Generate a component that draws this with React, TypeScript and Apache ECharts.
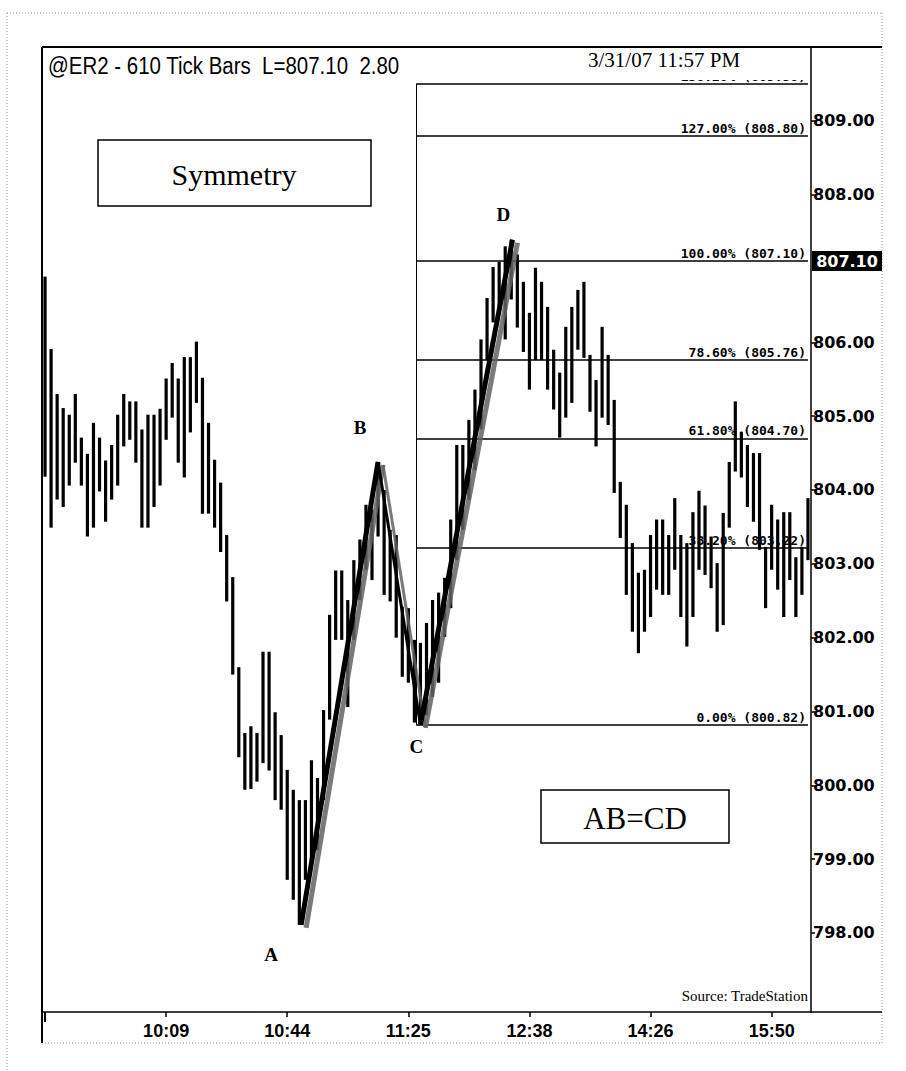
import React, { useEffect, useRef } from "react";
import * as echarts from "echarts";

// ---- data ----
const barHigh = [
  806.89, 805.91, 805.30, 805.11, 805.02, 805.30, 804.71, 804.49, 804.91, 804.71,
  804.40, 804.61, 805.02, 805.30, 805.20, 805.20, 804.82, 805.02, 805.02, 805.10,
  805.51, 805.72, 805.51, 805.80, 805.80, 806.01, 805.52, 804.91, 804.41, 804.10,
  803.39, 802.82, 801.60, 800.71, 800.80, 800.71, 801.81, 801.81, 800.99, 800.68,
  800.21, 799.94, 799.80, 799.80, 800.34, 800.10, 801.02, 802.31, 802.91, 802.91,
  802.51, 803.05, 803.33, 803.80, 803.73, 804.38, 804.00, 803.46, 803.39, 802.42,
  802.40, 801.97, 801.93, 802.20, 802.51, 802.61, 802.81, 803.60, 804.61, 804.61,
  804.95, 805.36, 806.04, 806.60, 807.02, 807.09, 807.30, 807.39, 807.19, 806.82,
  806.40, 807.01, 806.82, 806.48, 805.90, 805.59, 806.21, 806.48, 806.71, 806.82,
  805.83, 805.49, 806.21, 805.83, 805.22, 804.11, 803.80, 803.28, 802.88, 802.92,
  803.39, 803.60, 803.60, 803.39, 803.89, 803.39, 803.28, 803.70, 803.99, 803.79,
  803.37, 803.01, 803.69, 804.38, 805.20, 804.79, 804.61, 804.50, 804.50, 803.23,
  803.80, 803.60, 803.70, 803.70, 803.09, 803.23, 803.89,
];
const barLow = [
  804.18, 803.49, 803.87, 803.77, 804.06, 804.37, 804.06, 803.37, 803.49, 803.98,
  803.57, 803.87, 804.06, 804.59, 804.68, 804.37, 803.49, 803.49, 803.77, 804.06,
  804.68, 804.98, 804.37, 804.17, 804.78, 805.18, 803.68, 803.68, 803.49, 803.16,
  802.49, 801.50, 800.38, 799.94, 799.95, 800.05, 800.30, 800.20, 799.80, 799.67,
  798.72, 798.45, 798.11, 798.72, 798.99, 799.12, 799.80, 800.89, 801.97, 801.97,
  801.06, 801.97, 802.51, 802.92, 802.78, 803.37, 802.58, 802.49, 802.00, 801.47,
  801.39, 800.85, 800.82, 800.95, 801.20, 801.39, 802.01, 802.40, 803.05, 803.46,
  803.87, 804.27, 804.82, 805.76, 806.27, 806.44, 806.04, 806.58, 806.20, 805.87,
  805.36, 805.76, 805.76, 805.36, 805.09, 804.71, 804.98, 805.18, 805.90, 805.79,
  805.06, 804.59, 804.98, 804.88, 803.96, 803.35, 802.58, 802.08, 801.79, 802.08,
  802.28, 802.65, 802.58, 802.58, 802.92, 802.28, 801.88, 802.28, 802.92, 802.85,
  802.67, 802.08, 802.17, 803.49, 804.25, 804.17, 803.77, 803.57, 803.19, 802.40,
  802.92, 802.65, 802.28, 802.78, 802.28, 802.58, 803.05,
];
const xTickIdx = [20, 40, 60, 80, 100, 120];
const xTickLabels = ["10:09", "10:44", "11:25", "12:38", "14:26", "15:50"];
const yTicks = [798, 799, 800, 801, 802, 803, 804, 805, 806, 808, 809];
const fibPct = ["0.00%", "38.20%", "61.80%", "78.60%", "100.00%", "127.00%", "138.20%"];
const fibVal = [800.82, 803.22, 804.7, 805.76, 807.1, 808.8, 809.5];
const fibStartIdx = 61.3;
const fibEndIdx = 126;
const pivotNames = ["A", "B", "C", "D"];
const pivotIdx = [42.3, 55, 62, 77.2];
const pivotVal = [798.11, 804.38, 800.82, 807.39];
const lastPrice = 807.1;
const titleText = "@ER2 - 610 Tick Bars  L=807.10  2.80";
const dateText = "3/31/07 11:57 PM";

export default function App() {
  const ref = useRef<HTMLDivElement>(null);
  useEffect(() => {
    if (!ref.current) return;
    const chart = echarts.init(ref.current, undefined, { renderer: "svg" });
    const barData = barHigh.map((h, i) => [i, barLow[i], h]);
    const seg = (a: number, b: number) => [
      [pivotIdx[a], pivotVal[a]],
      [pivotIdx[b], pivotVal[b]],
    ];
    const shadowLine = (w: number) => ({
      color: "#000",
      width: w,
      shadowColor: "rgba(100,100,100,0.85)",
      shadowOffsetX: 5,
      shadowOffsetY: 3,
      shadowBlur: 1,
    });
    const labelOffsets = [[-30, 30], [-18, -34], [-4, 22], [-9, -25]];
    const fibLines: any[] = fibVal.map((v, i) => [
      {
        coord: [fibStartIdx, v],
        label: {
          show: true,
          position: "insideEndTop",
          formatter: `${fibPct[i]} (${v.toFixed(2)})`,
          fontFamily: "DejaVu Sans Mono",
          fontWeight: "bold",
          fontSize: 13,
          color: "#000",
          distance: [2, 1],
        },
      },
      { coord: [fibEndIdx, v] },
    ]);
    fibLines.push([
      { coord: [fibStartIdx, fibVal[fibVal.length - 1]], label: { show: false }, lineStyle: { width: 1 } },
      { coord: [fibStartIdx, fibVal[0]] },
    ]);

    chart.setOption({
      animation: false,
      backgroundColor: "#fff",
      grid: { left: 42, top: 47, right: 95, bottom: 59, containLabel: false, outerBoundsMode: "none" },
      xAxis: [
        {
          type: "value",
          min: -0.5,
          max: 126.5,
          position: "bottom",
          axisLine: { show: true, onZero: false, lineStyle: { color: "#000", width: 1.5 } },
          axisTick: { show: true, customValues: xTickIdx, length: 5, lineStyle: { color: "#000", width: 1.5 } },
          axisLabel: {
            show: true,
            customValues: xTickIdx,
            formatter: (v: number) => xTickLabels[xTickIdx.indexOf(Math.round(v))] || "",
            margin: 10,
            fontFamily: "'Liberation Sans Narrow', 'Liberation Sans'",
            fontWeight: "bold",
            fontSize: 18,
            color: "#000",
          },
          splitLine: { show: false },
        },
        {
          type: "value",
          min: -0.5,
          max: 126.5,
          position: "bottom",
          axisLine: { show: false },
          axisTick: { show: true, customValues: [0], length: 10, lineStyle: { color: "#000", width: 2 } },
          axisLabel: { show: false },
          splitLine: { show: false },
        },
      ],
      yAxis: {
        type: "value",
        position: "right",
        min: 796.93,
        max: 810,
        axisLine: { show: true, onZero: false, lineStyle: { color: "#000", width: 1.5 } },
        axisTick: { show: true, customValues: yTicks, length: 4, lineStyle: { color: "#000", width: 1.5 } },
        axisLabel: {
          show: true,
          customValues: yTicks,
          formatter: (v: number) => v.toFixed(2),
          margin: 2,
          fontFamily: "DejaVu Sans",
          fontWeight: "bold",
          fontSize: 16,
          color: "#000",
        },
        splitLine: { show: false },
      },
      series: [
        {
          name: "fib",
          type: "line",
          z: 1,
          data: [[fibStartIdx, fibVal[0]]],
          symbol: "none",
          lineStyle: { opacity: 0 },
          silent: true,
          markLine: {
            silent: true,
            symbol: ["none", "none"],
            precision: 2,
            lineStyle: { color: "#000", width: 1.5, type: "solid" },
            data: fibLines,
          },
        },
        {
          name: "bars",
          type: "custom",
          z: 3,
          data: barData,
          encode: { x: 0, y: [1, 2] },
          renderItem: (params: any, api: any) => {
            const x = api.value(0);
            const lo = api.value(1);
            const hi = api.value(2);
            const p1 = api.coord([x, hi]);
            const p2 = api.coord([x, lo]);
            return {
              type: "rect",
              shape: { x: p1[0] - 1.6, y: p1[1], width: 3.2, height: Math.max(1, p2[1] - p1[1]) },
              style: { fill: "#000" },
            };
          },
        },
        { name: "AB", type: "line", z: 5, symbol: "none", data: seg(0, 1), lineStyle: shadowLine(5) },
        { name: "BC", type: "line", z: 5, symbol: "none", data: seg(1, 2), lineStyle: shadowLine(3) },
        { name: "CD", type: "line", z: 5, symbol: "none", data: seg(2, 3), lineStyle: shadowLine(5) },
      ],
    });

    const py = chart.convertToPixel({ yAxisIndex: 0 }, lastPrice) as number;
    const pivotLabels = pivotNames.map((name, i) => {
      const p = chart.convertToPixel({ xAxisIndex: 0, yAxisIndex: 0 }, [pivotIdx[i], pivotVal[i]]) as number[];
      return {
        type: "text",
        z: 63,
        style: {
          text: name,
          x: p[0] + labelOffsets[i][0],
          y: p[1] + labelOffsets[i][1],
          fill: "#000",
          font: "bold 19px 'Liberation Serif'",
          textAlign: "center",
          textVerticalAlign: "middle",
        },
      };
    });
    const dotted = { stroke: "#999", lineWidth: 1, lineDash: [1, 2] };
    chart.setOption({
      graphic: [
        { type: "line", z: 50, shape: { x1: 7, y1: 13, x2: 882, y2: 13 }, style: dotted },
        { type: "line", z: 50, shape: { x1: 7, y1: 13, x2: 7, y2: 1071 }, style: dotted },
        { type: "line", z: 50, shape: { x1: 882, y1: 13, x2: 882, y2: 1043 }, style: dotted },
        { type: "line", z: 50, shape: { x1: 42, y1: 1043, x2: 882, y2: 1043 }, style: dotted },
        { type: "rect", z: 60, shape: { x: 43, y: 48, width: 767, height: 32 }, style: { fill: "#fff" } },
        { type: "line", z: 61, shape: { x1: 42, y1: 47, x2: 882, y2: 47 }, style: { stroke: "#000", lineWidth: 2 } },
        { type: "line", z: 61, shape: { x1: 42, y1: 47, x2: 42, y2: 1043 }, style: { stroke: "#000", lineWidth: 2 } },
        { type: "line", z: 61, shape: { x1: 811, y1: 1012, x2: 882, y2: 1012 }, style: { stroke: "#000", lineWidth: 1.5 } },
        {
          type: "text",
          z: 62,
          x: 48,
          y: 66,
          scaleX: 0.89,
          style: {
            text: titleText,
            x: 0,
            y: 0,
            fill: "#000",
            font: "23px 'Liberation Sans'",
            textAlign: "left",
            textVerticalAlign: "middle",
          },
        },
        {
          type: "text",
          z: 62,
          style: {
            text: dateText,
            x: 588,
            y: 60,
            fill: "#000",
            font: "21px 'Liberation Serif'",
            textAlign: "left",
            textVerticalAlign: "middle",
          },
        },
        {
          type: "rect",
          z: 62,
          shape: { x: 98, y: 140, width: 273, height: 66 },
          style: { fill: "#fff", stroke: "#000", lineWidth: 1.5 },
        },
        {
          type: "text",
          z: 63,
          style: {
            text: "Symmetry",
            x: 234,
            y: 174,
            fill: "#000",
            font: "30px 'Liberation Serif'",
            textAlign: "center",
            textVerticalAlign: "middle",
          },
        },
        {
          type: "rect",
          z: 62,
          shape: { x: 541, y: 790, width: 188, height: 53 },
          style: { fill: "#fff", stroke: "#000", lineWidth: 1.5 },
        },
        {
          type: "text",
          z: 63,
          style: {
            text: "AB=CD",
            x: 635,
            y: 818,
            fill: "#000",
            font: "31px 'Liberation Serif'",
            textAlign: "center",
            textVerticalAlign: "middle",
          },
        },
        {
          type: "text",
          z: 62,
          style: {
            text: "Source: TradeStation",
            x: 808,
            y: 996,
            fill: "#000",
            font: "15px 'Liberation Serif'",
            textAlign: "right",
            textVerticalAlign: "middle",
          },
        },
        {
          type: "rect",
          z: 62,
          shape: { x: 812, y: py - 10, width: 70, height: 20 },
          style: { fill: "#000" },
        },
        {
          type: "text",
          z: 63,
          style: {
            text: lastPrice.toFixed(2),
            x: 847,
            y: py,
            fill: "#fff",
            font: "bold 16px 'DejaVu Sans'",
            textAlign: "center",
            textVerticalAlign: "middle",
          },
        },
        ...pivotLabels,
      ],
    });
    return () => chart.dispose();
  }, []);
  return (
    <div
      ref={ref}
      style={{ position: "fixed", left: 0, top: 0, width: 906, height: 1071, background: "#fff" }}
    />
  );
}
